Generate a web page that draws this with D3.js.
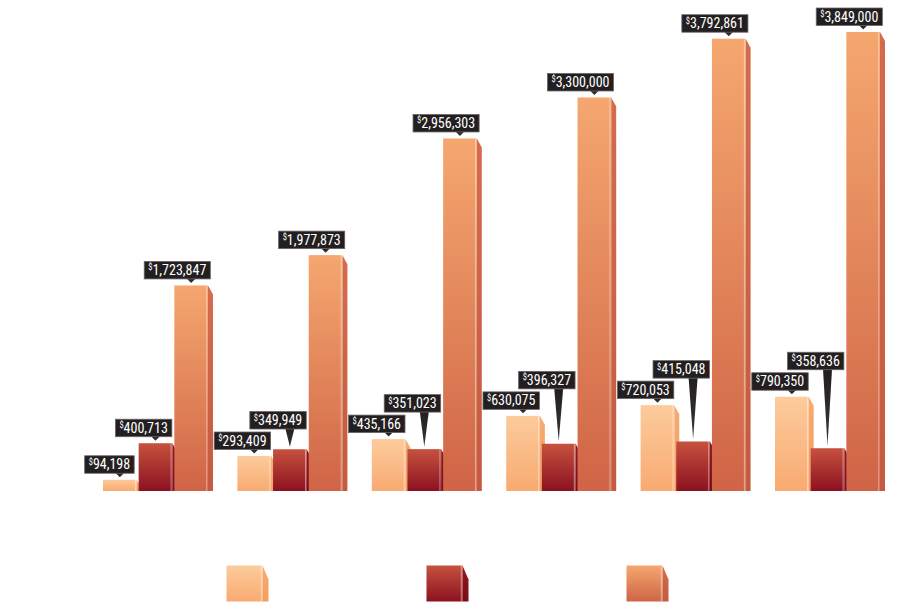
<!DOCTYPE html>
<html>
<head>
<meta charset="utf-8">
<script src="https://cdn.jsdelivr.net/npm/d3@7"></script>
<style>
  body { margin: 0; background: #fff; }
  svg { display: block; }
</style>
</head>
<body>
<div id="chart"></div>
<script>
// data (no axis or category text is shown on it)
const categories = ["1", "2", "3", "4", "5", "6"];
const seriesNames = ["Series 1", "Series 2", "Series 3"];
const lightValues = [94198, 293409, 435166, 630075, 720053, 790350];
const darkValues = [400713, 349949, 351023, 396327, 415048, 358636];
const orangeValues = [1723847, 1977873, 2956303, 3300000, 3792861, 3849000];

const width = 900, height = 610;

const svg = d3.select("#chart")
    .append("svg")
    .attr("width", width)
    .attr("height", height);

// face / side colours for each series
const colors = [
    { top: "#fdcb9c", bottom: "#f8aa71", sideTop: "#f7ab70", sideBottom: "#f39e5f" },
    { top: "#c6523f", bottom: "#8c1120", sideTop: "#8f1a22", sideBottom: "#7a0c18" },
    { top: "#f5a76f", bottom: "#cf6446", sideTop: "#d46c4c", sideBottom: "#c45a3f" }
];

const defs = svg.append("defs");
colors.forEach((c, i) => {
    const face = defs.append("linearGradient")
        .attr("id", "face" + i)
        .attr("x1", 0).attr("y1", 0).attr("x2", 0).attr("y2", 1);
    face.append("stop").attr("offset", "0%").attr("stop-color", c.top);
    face.append("stop").attr("offset", "100%").attr("stop-color", c.bottom);
    const side = defs.append("linearGradient")
        .attr("id", "side" + i)
        .attr("x1", 0).attr("y1", 0).attr("x2", 0).attr("y2", 1);
    side.append("stop").attr("offset", "0%").attr("stop-color", c.sideTop);
    side.append("stop").attr("offset", "100%").attr("stop-color", c.sideBottom);
});
const tipGrad = defs.append("linearGradient")
    .attr("id", "tip")
    .attr("x1", 0).attr("y1", 0).attr("x2", 0).attr("y2", 1);
tipGrad.append("stop").attr("offset", "0%").attr("stop-color", "#231f20");
tipGrad.append("stop").attr("offset", "100%").attr("stop-color", "#3a3637");

const x0 = d3.scaleBand()
    .domain(categories)
    .range([103, 882])
    .paddingInner(0.204);
const x1 = d3.scaleBand()
    .domain(seriesNames)
    .range([0, x0.bandwidth()]);
const y = d3.scaleLinear()
    .domain([0, 4000000])
    .range([491, 14]);

const rows = categories.map((c, i) => ({
    cat: c,
    values: [lightValues[i], darkValues[i], orangeValues[i]]
}));

const faceW = x1.bandwidth() - 2;
const sideW = 5, sideDrop = 9;

function drawBlock(g, x, top, w, h, i, sw, drop) {
    const base = top + h;
    const d = Math.min(drop, h);
    g.append("path")
        .attr("d", `M${x + w},${top} L${x + w + sw},${top + d} L${x + w + sw},${base} L${x + w},${base} Z`)
        .attr("fill", `url(#side${i})`);
    g.append("rect")
        .attr("x", x)
        .attr("y", top)
        .attr("width", w)
        .attr("height", h)
        .attr("fill", `url(#face${i})`);
    g.append("line")
        .attr("x1", x + w - 1.2).attr("x2", x + w - 1.2)
        .attr("y1", top).attr("y2", base)
        .attr("stroke", "#fff")
        .attr("stroke-opacity", 0.45)
        .attr("stroke-width", 1);
}

const groups = svg.selectAll("g.group")
    .data(rows)
    .enter().append("g")
    .attr("class", "group")
    .attr("transform", d => `translate(${x0(d.cat)},0)`);

groups.each(function (d) {
    const g = d3.select(this);
    d.values.forEach((v, i) => {
        drawBlock(g.append("g"), x1(seriesNames[i]), y(v), faceW, y(0) - y(v), i, sideW, sideDrop);
    });
});

// value labels
const fmt = d3.format(",");
const boxH = 17.5, gap = 6.5;
const labelLayer = svg.append("g");

function addLabel(cx, barTop, bottomY, value) {
    const lab = labelLayer.append("g");
    const txt = lab.append("text")
        .attr("fill", "#fff")
        .style("font-family", "'Liberation Sans Narrow', 'Roboto Condensed', 'DejaVu Sans Condensed', sans-serif")
        .style("font-size", "14px");
    txt.append("tspan").attr("font-size", "8.5px").attr("dy", -4.5).text("$");
    txt.append("tspan").attr("dy", 4.5).text(fmt(value));
    const w = txt.node().getComputedTextLength() + 8;
    const bx = cx - 0.71 * w, by = bottomY - boxH;
    lab.insert("path", "text")
        .attr("d", `M${cx - 4.5},${bottomY - 0.5} L${cx + 4.5},${bottomY - 0.5} L${cx},${barTop - 2.5} Z`)
        .attr("fill", "url(#tip)");
    lab.insert("rect", "text")
        .attr("x", bx).attr("y", by)
        .attr("width", w).attr("height", boxH)
        .attr("fill", "#231f20")
        .attr("stroke", "#6a6667")
        .attr("stroke-width", 0.8);
    txt.attr("x", bx + 4).attr("y", bottomY - 4);
    return by;
}

rows.forEach(d => {
    const gx = x0(d.cat);
    const cxs = seriesNames.map(s => gx + x1(s) + faceW / 2);
    const tops = d.values.map(v => y(v));
    const lightBoxTop = addLabel(cxs[0], tops[0], tops[0] - gap, d.values[0]);
    const darkBottom = Math.min(tops[1] - gap, lightBoxTop - 3);
    addLabel(cxs[1], tops[1], darkBottom, d.values[1]);
    addLabel(cxs[2], tops[2], tops[2] - gap, d.values[2]);
});

// legend swatches (no text in the picture)
const legendX = d3.scalePoint()
    .domain(seriesNames)
    .range([226.5, 626.5]);
const legend = svg.append("g");
seriesNames.forEach((s, i) => {
    drawBlock(legend.append("g"), legendX(s), 565.5, 36, 36, i, 6, 14);
});
</script>
</body>
</html>
